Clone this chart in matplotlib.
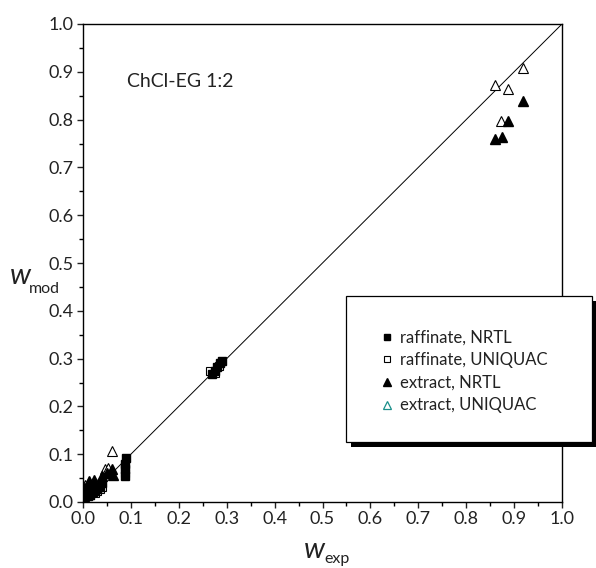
"""Parity plot: modelled vs experimental mass fractions, ChCl-EG 1:2.

Raffinate and extract phases, NRTL and UNIQUAC fits against the y = x line.
"""

import matplotlib
matplotlib.use("Agg")
import matplotlib.pyplot as plt
from matplotlib.lines import Line2D
from matplotlib.patches import Rectangle

plt.rcParams["font.family"] = ["Lato", "DejaVu Sans"]

# raffinate phase, NRTL (filled squares)
RAF_NRTL_X = [0.000, 0.002, 0.003, 0.010, 0.015, 0.020, 0.025, 0.030, 0.035,
              0.040, 0.088, 0.088, 0.088, 0.089, 0.270, 0.275, 0.280, 0.285,
              0.290]
RAF_NRTL_Y = [0.005, 0.015, 0.025, 0.012, 0.015, 0.020, 0.022, 0.028, 0.032,
              0.040, 0.055, 0.068, 0.080, 0.092, 0.268, 0.275, 0.282, 0.290,
              0.296]
# raffinate phase, UNIQUAC (open squares)
RAF_UNIQ_X = [0.000, 0.005, 0.015, 0.025, 0.030, 0.035, 0.040, 0.088, 0.265,
              0.275, 0.283]
RAF_UNIQ_Y = [0.002, 0.010, 0.014, 0.018, 0.022, 0.028, 0.032, 0.060, 0.275,
              0.270, 0.285]
# extract phase, NRTL (filled triangles)
EXT_NRTL_X = [0.003, 0.012, 0.022, 0.040, 0.050, 0.060, 0.063, 0.860, 0.874,
              0.888, 0.918]
EXT_NRTL_Y = [0.030, 0.043, 0.047, 0.055, 0.061, 0.068, 0.057, 0.760, 0.763,
              0.798, 0.839]
# extract phase, UNIQUAC (open triangles)
EXT_UNIQ_X = [0.005, 0.012, 0.045, 0.052, 0.060, 0.860, 0.873, 0.888, 0.918]
EXT_UNIQ_Y = [0.035, 0.042, 0.068, 0.072, 0.106, 0.872, 0.797, 0.863, 0.907]

TICKS = [0.0, 0.1, 0.2, 0.3, 0.4, 0.5, 0.6, 0.7, 0.8, 0.9, 1.0]
LABELS = ["raffinate, NRTL", "raffinate, UNIQUAC", "extract, NRTL",
          "extract, UNIQUAC"]
C_TEAL = "#1a8f8a"

W, H = 596, 568


def px(x, y):
    # pixel position (from top-left) -> figure fraction
    return x / W, 1 - y / H


fig = plt.figure(figsize=(W / 100, H / 100), dpi=100)
ax = fig.add_axes([83 / W, 1 - 502 / H, (562 - 83) / W, (502 - 24) / H])

ax.plot([0, 1], [0, 1], color="black", lw=0.7, zorder=1)
ax.plot(RAF_NRTL_X, RAF_NRTL_Y, ls="none", marker="s", ms=6, mfc="black",
        mec="black", zorder=3)
ax.plot(RAF_UNIQ_X, RAF_UNIQ_Y, ls="none", marker="s", ms=6, mfc="white",
        mec="black", mew=0.8, zorder=2)
ax.plot(EXT_NRTL_X, EXT_NRTL_Y, ls="none", marker="^", ms=6.5, mfc="black",
        mec="black", zorder=3)
ax.plot(EXT_UNIQ_X, EXT_UNIQ_Y, ls="none", marker="^", ms=6.5, mfc="white",
        mec="black", mew=0.8, zorder=2)

ax.set_xlim(0, 1)
ax.set_ylim(0, 1)
ax.set_xticks(TICKS)
ax.set_yticks(TICKS)
ax.set_xticklabels([f"{t:.1f}" for t in TICKS])
ax.set_yticklabels([f"{t:.1f}" for t in TICKS])
ax.set_xticks([t + 0.05 for t in TICKS[:-1]], minor=True)
ax.set_yticks([t + 0.05 for t in TICKS[:-1]], minor=True)
ax.tick_params(which="major", direction="out", length=4.5, width=1.0,
               labelsize=13, pad=2, colors="#222222")
ax.tick_params(which="minor", direction="out", length=3, width=1.0)
for s in ax.spines.values():
    s.set_linewidth(1.0)

ax.text((127 - 83) / (562 - 83), 0.88, "ChCl-EG 1:2",
        transform=ax.transAxes, fontsize=14, color="#222222",
        ha="left", va="center")

# axis labels: italic w with roman subscript
fig.text(*px(20, 276), "w", fontsize=21, style="italic", ha="center",
         va="center", color="#222222")
fig.text(*px(29, 289), "mod", fontsize=11.5, ha="left", va="center",
         color="#222222")
fig.text(*px(314, 550), "w", fontsize=21, style="italic", ha="center",
         va="center", color="#222222")
fig.text(*px(324, 559), "exp", fontsize=11.5, ha="left", va="center",
         color="#222222")

# legend box with a hard drop shadow, sitting over the right spine
bx0, by0, bx1, by1 = 346, 296, 592, 442
fig.patches.append(Rectangle(px(bx0 + 5, by1 + 5), (bx1 - bx0) / W,
                             (by1 - by0) / H, transform=fig.transFigure,
                             facecolor="black", edgecolor="none", zorder=5))
fig.patches.append(Rectangle(px(bx0, by1), (bx1 - bx0) / W, (by1 - by0) / H,
                             transform=fig.transFigure, facecolor="white",
                             edgecolor="black", lw=0.9, zorder=6))
handles = [
    Line2D([], [], ls="none", marker="s", ms=5, mfc="black", mec="black"),
    Line2D([], [], ls="none", marker="s", ms=5, mfc="white", mec="black",
           mew=0.8),
    Line2D([], [], ls="none", marker="^", ms=5.5, mfc="black", mec="black"),
    Line2D([], [], ls="none", marker="^", ms=5.5, mfc="white", mec=C_TEAL,
           mew=0.9),
]
leg = fig.legend(handles, LABELS, loc="upper left",
                 bbox_to_anchor=px(370, 321), frameon=False, fontsize=12,
                 handlelength=1.0, handletextpad=0.3, labelspacing=0.4,
                 borderpad=0)
leg.set_zorder(7)
for t in leg.get_texts():
    t.set_color("#222222")

fig.savefig("out.png", dpi=100)
